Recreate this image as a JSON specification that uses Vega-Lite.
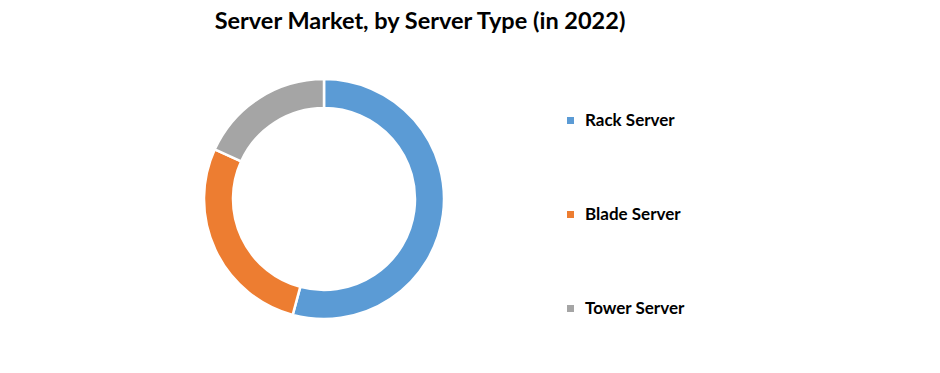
{
  "$schema": "https://vega.github.io/schema/vega-lite/v6.json",
  "autosize": "none",
  "width": 648,
  "height": 298,
  "padding": {"left": 0, "top": 50, "right": 292, "bottom": 25},
  "background": "white",
  "title": {
    "text": "Server Market, by Server Type (in 2022)",
    "font": "Lato",
    "fontSize": 23.5,
    "fontWeight": "bold",
    "color": "#000000",
    "anchor": "middle",
    "dx": 96,
    "offset": 17
  },
  "view": {"stroke": null},
  "data": {
    "values": [
      {"type": "Rack Server", "share": 54.2, "rank": 1},
      {"type": "Blade Server", "share": 27.6, "rank": 2},
      {"type": "Tower Server", "share": 18.2, "rank": 3}
    ]
  },
  "mark": {"type": "arc", "outerRadius": 120, "innerRadius": 91, "stroke": "#ffffff", "strokeWidth": 2.5},
  "encoding": {
    "theta": {"field": "share", "type": "quantitative", "stack": true},
    "order": {"field": "rank", "type": "quantitative"},
    "color": {
      "field": "type",
      "type": "nominal",
      "scale": {"domain": ["Rack Server", "Blade Server", "Tower Server"], "range": ["#5B9BD5", "#ED7D31", "#A5A5A5"]},
      "legend": {
        "orient": "none",
        "legendX": 562,
        "legendY": 62,
        "direction": "vertical",
        "title": null,
        "symbolType": "square",
        "symbolSize": 49,
        "symbolStrokeWidth": 0,
        "labelFont": "Lato",
        "labelFontSize": 17,
        "labelFontWeight": "bold",
        "labelColor": "#000000",
        "labelOffset": 6,
        "rowPadding": 76
      }
    }
  }
}
